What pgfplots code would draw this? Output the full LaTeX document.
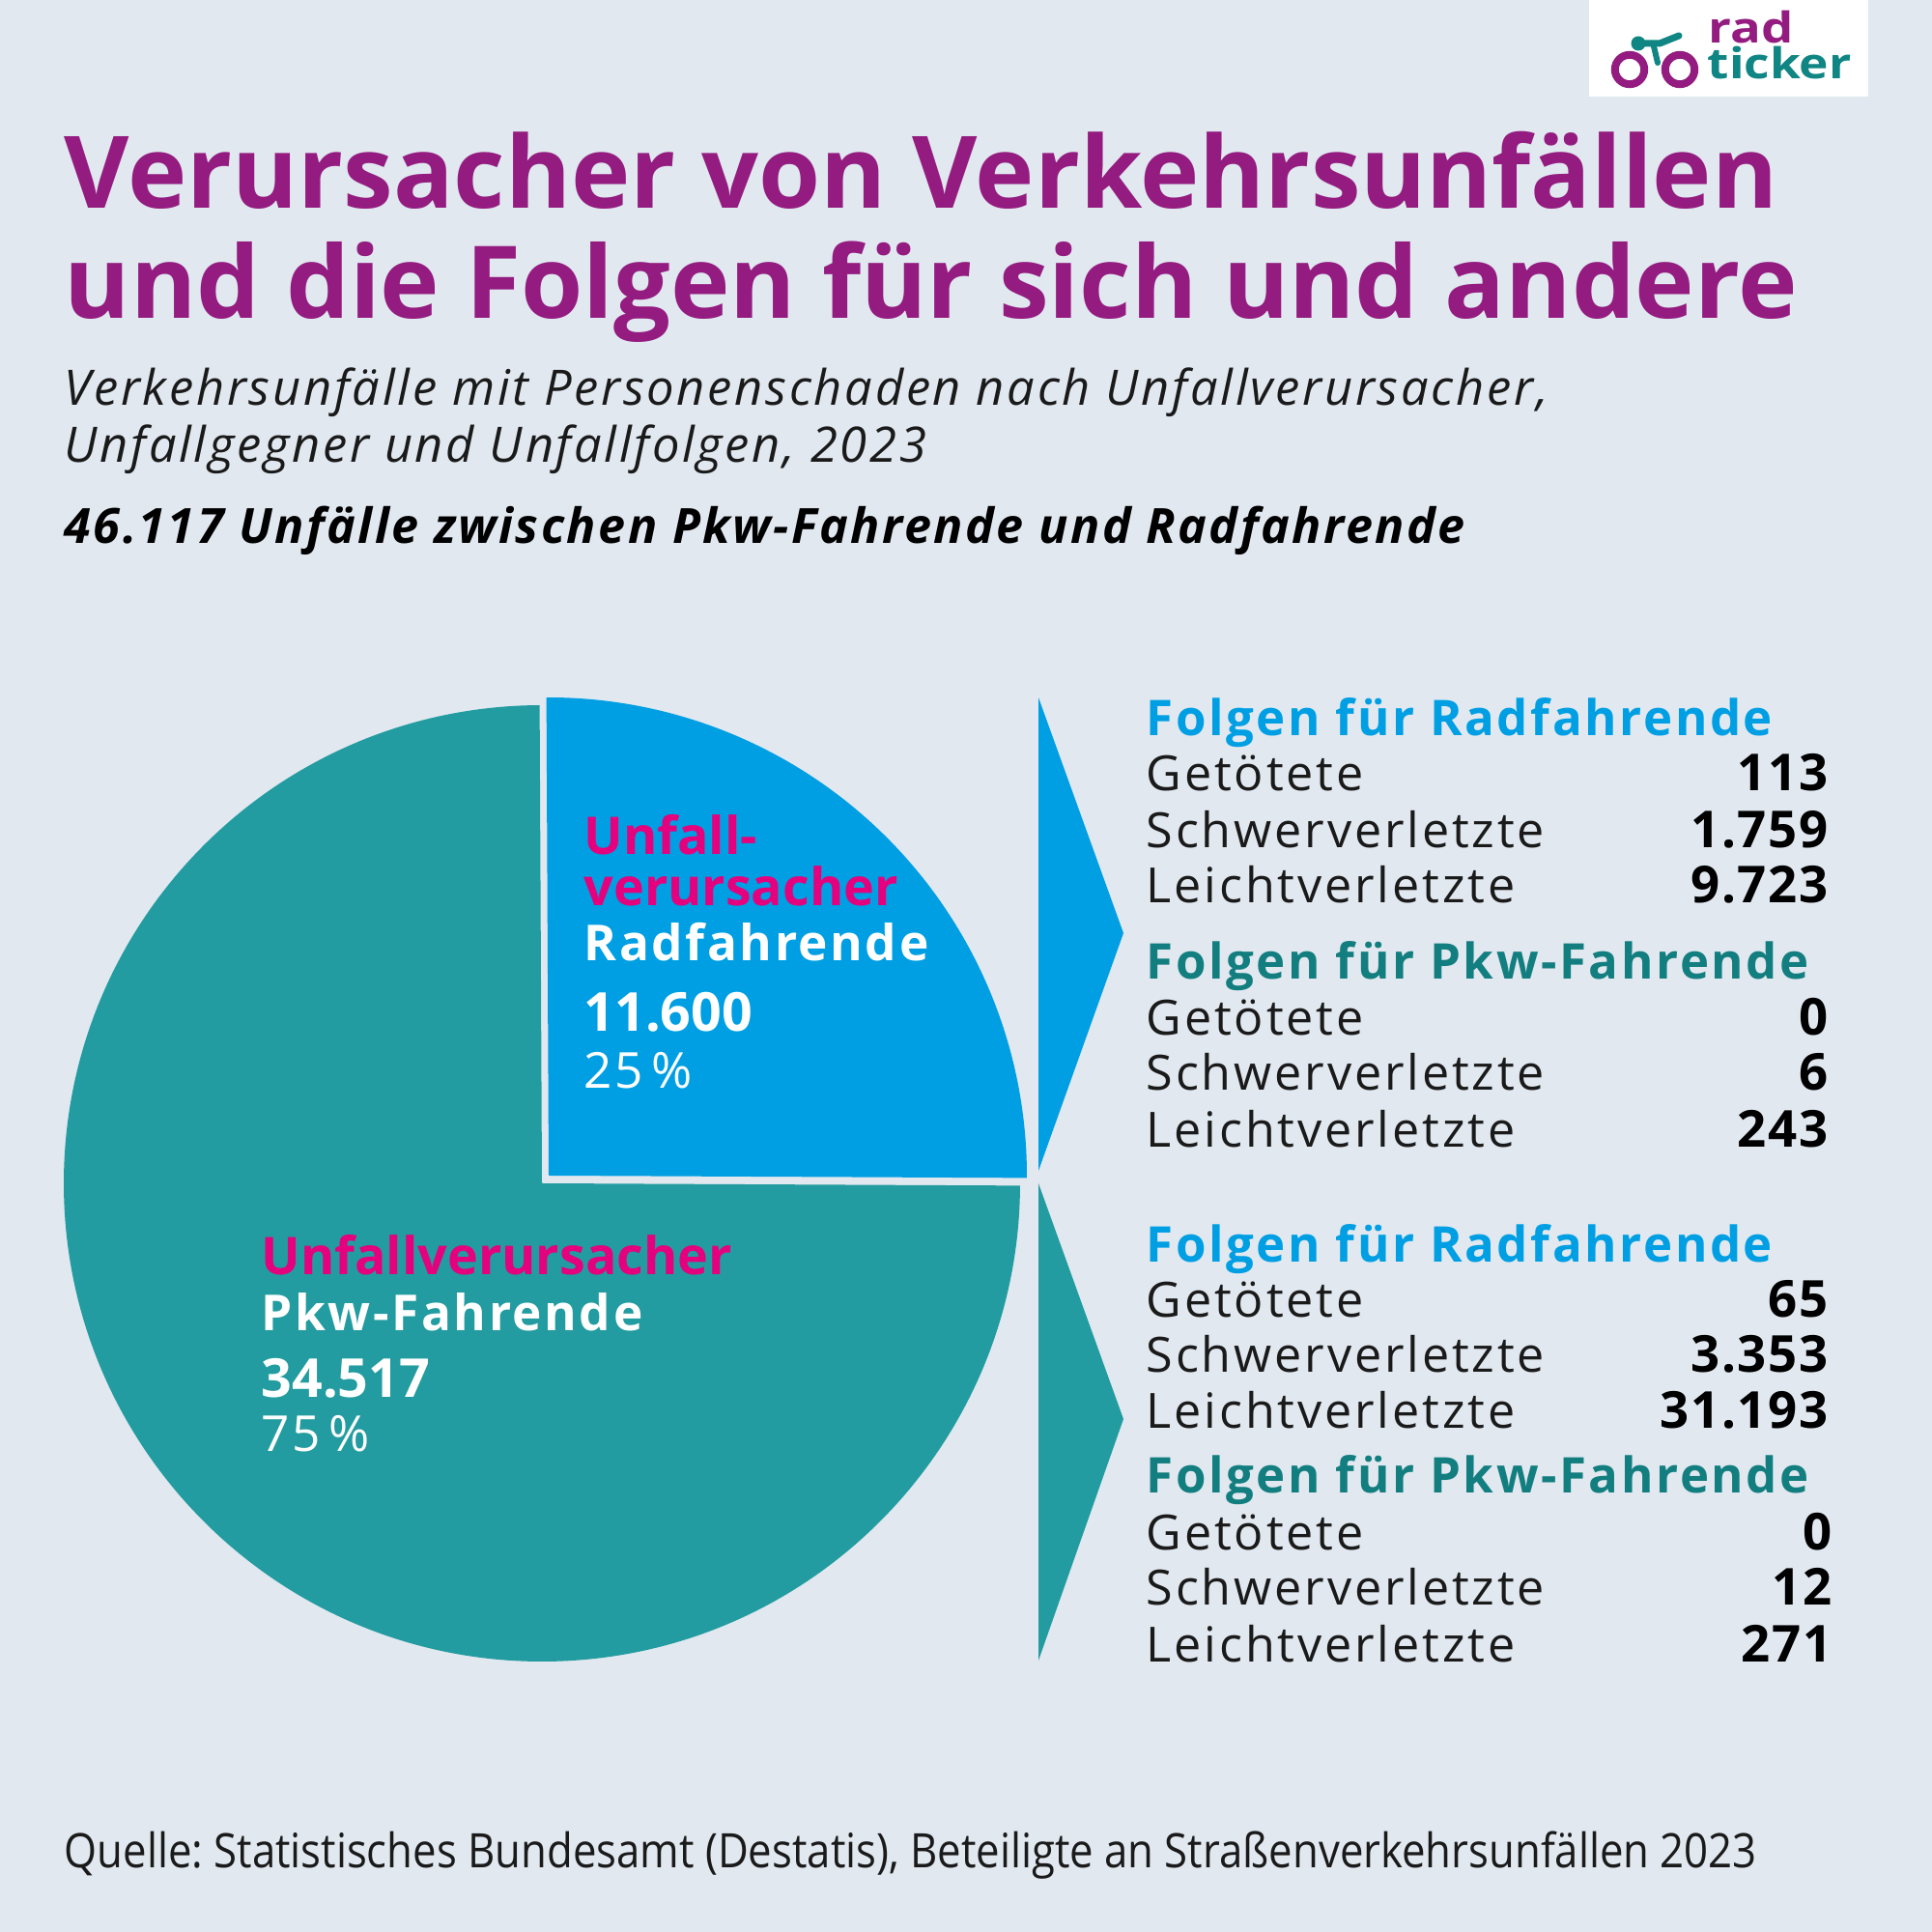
\documentclass[border=0pt]{standalone}
\usepackage{fontspec}
\setmainfont{Open Sans}
\usepackage{graphicx}
\usepackage{pgfplots}
\pgfplotsset{compat=1.18}
\frenchspacing
\definecolor{bgc}{HTML}{E1E8F0}
\definecolor{tealc}{HTML}{229CA0}
\definecolor{bluec}{HTML}{009FE3}
\definecolor{titlec}{HTML}{941C80}
\definecolor{magc}{HTML}{E5007E}
\definecolor{dteal}{HTML}{137E7F}
\definecolor{logot}{HTML}{0F8584}
\definecolor{txt}{HTML}{1A1A1A}
% data
\def\vRad{11600}
\def\vPkw{34517}
\edef\aR{\fpeval{round(360*\vRad/(\vRad+\vPkw),3)}}
\edef\aS{\fpeval{45-\aR/2}}
\edef\aE{\fpeval{45+\aR/2}}
\edef\aTE{\fpeval{360+\aS}}
\newcommand{\fs}[2]{\fontsize{#1}{#2}\selectfont}
\newcommand{\LS}[1]{\addfontfeatures{LetterSpace=#1}}
\tikzset{
  tl/.style={anchor=base west,inner sep=0},
  tr/.style={anchor=base east,inner sep=0},
  body/.style={tl,text=txt,font=\fs{14.3}{17}\LS{5.7}},
  num/.style={tr,text=black,font=\fs{15}{17}\bfseries\LS{3}},
  head/.style={tl,font=\fs{14.5}{17}\bfseries\LS{5.1}},
  pmag/.style={tl,text=magc,font=\fs{15.3}{18}\bfseries},
  pwht/.style={tl,text=white,font=\fs{14.6}{18}\bfseries\LS{5}},
  pnum/.style={tl,text=white,font=\fs{15.8}{18}\bfseries},
  ppct/.style={tl,text=white,font=\fs{14.6}{18}\LS{5}},
}
\begin{document}
\begin{tikzpicture}
\begin{axis}[width=20cm,height=20cm,scale only axis,xmin=0,xmax=2000,ymin=0,ymax=2000,
  axis lines=none,ticks=none,clip=false]
\fill[bgc] (axis cs:0,0) rectangle (axis cs:2000,2000);
% pie
\fill[tealc] (axis cs:561,775) -- ++(\aE:4.95cm) arc[start angle=\aE,end angle=\aTE,radius=4.95cm] -- cycle;
\fill[bluec] (axis cs:568,783) -- ++(\aS:4.95cm) arc[start angle=\aS,end angle=\aE,radius=4.95cm] -- cycle;
% arrows
\fill[bluec] (axis cs:1075,1278) -- (axis cs:1163,1034) -- (axis cs:1075,788) -- cycle;
\fill[tealc] (axis cs:1075,775) -- (axis cs:1163,531) -- (axis cs:1075,281) -- cycle;
% logo
\fill[white] (axis cs:1645,1900) rectangle (axis cs:1934,2000);
\draw[titlec,line width=0.8mm] (axis cs:1687,1928) circle[radius=0.152cm];
\draw[titlec,line width=0.8mm] (axis cs:1739,1928) circle[radius=0.152cm];
\fill[logot] (axis cs:1696,1955) circle[radius=0.075cm];
\draw[logot,line width=0.7mm,line cap=round] (axis cs:1696,1955) -- (axis cs:1718,1955) -- (axis cs:1738,1963);
\draw[logot,line width=0.6mm,line cap=round] (axis cs:1712,1952) -- (axis cs:1716,1935);
\node[tl,text=titlec,font=\fs{12.5}{13}\bfseries] at (axis cs:1768,1955) {\scalebox{1.2}[1]{rad}};
\node[tl,text=logot,font=\fs{12.5}{13}\bfseries] at (axis cs:1767,1918) {\scalebox{1.17}[1]{ticker}};
% titles
\node[tl,text=titlec,font=\fs{29.5}{34}\bfseries] at (axis cs:66,1784) {Verursacher von Verkehrsunfällen};
\node[tl,text=titlec,font=\fs{29.6}{34}\bfseries] at (axis cs:66,1670) {und die Folgen für sich und andere};
\node[tl,text=txt,font=\fs{14.4}{17}\itshape\LS{5.4}] at (axis cs:66,1580) {Verkehrsunfälle mit Personenschaden nach Unfallverursacher,};
\node[tl,text=txt,font=\fs{14.4}{17}\itshape\LS{5.4}] at (axis cs:66,1521) {Unfallgegner und Unfallfolgen, 2023};
\node[tl,text=black,font=\fs{14.3}{17}\bfseries\itshape\LS{4.9}] at (axis cs:66,1437) {46.117 Unfälle zwischen Pkw-Fahrende und Radfahrende};
% pie labels
\node[pmag] at (axis cs:604,1115) {Unfall-};
\node[pmag] at (axis cs:604,1062) {verursacher};
\node[pwht] at (axis cs:604,1005) {Radfahrende};
\node[pnum] at (axis cs:604,932) {11.600};
\node[ppct] at (axis cs:604,873) {25\,\%};
\node[pmag] at (axis cs:270,680) {Unfallverursacher};
\node[pwht] at (axis cs:270,622) {Pkw-Fahrende};
\node[pnum] at (axis cs:270,553) {34.517};
\node[ppct] at (axis cs:270,497) {75\,\%};
% right table block 1
\node[head,text=bluec] at (axis cs:1186,1238) {Folgen für Radfahrende};
\node[body] at (axis cs:1186,1181) {Getötete};
\node[body] at (axis cs:1186,1122) {Schwerverletzte};
\node[body] at (axis cs:1186,1065) {Leichtverletzte};
\node[num] at (axis cs:1893,1181) {113};
\node[num] at (axis cs:1893,1122) {1.759};
\node[num] at (axis cs:1893,1065) {9.723};
\node[head,text=dteal] at (axis cs:1186,986) {Folgen für Pkw-Fahrende};
\node[body] at (axis cs:1186,928) {Getötete};
\node[body] at (axis cs:1186,871) {Schwerverletzte};
\node[body] at (axis cs:1186,812) {Leichtverletzte};
\node[num] at (axis cs:1893,928) {0};
\node[num] at (axis cs:1893,871) {6};
\node[num] at (axis cs:1893,812) {243};
% right table block 2
\node[head,text=bluec] at (axis cs:1186,693) {Folgen für Radfahrende};
\node[body] at (axis cs:1186,636) {Getötete};
\node[body] at (axis cs:1186,579) {Schwerverletzte};
\node[body] at (axis cs:1186,521) {Leichtverletzte};
\node[num] at (axis cs:1893,636) {65};
\node[num] at (axis cs:1893,579) {3.353};
\node[num] at (axis cs:1893,521) {31.193};
\node[head,text=dteal] at (axis cs:1186,454) {Folgen für Pkw-Fahrende};
\node[body] at (axis cs:1186,395) {Getötete};
\node[body] at (axis cs:1186,338) {Schwerverletzte};
\node[body] at (axis cs:1186,279) {Leichtverletzte};
\node[num] at (axis cs:1897,395) {0};
\node[num] at (axis cs:1897,338) {12};
\node[num] at (axis cs:1897,279) {271};
% source
\node[tl,text=txt,font=\fs{14}{17}] at (axis cs:66,67) {\scalebox{0.888}[1]{Quelle: Statistisches Bundesamt (Destatis), Beteiligte an Straßenverkehrsunfällen 2023}};
\end{axis}
\end{tikzpicture}
\end{document}
